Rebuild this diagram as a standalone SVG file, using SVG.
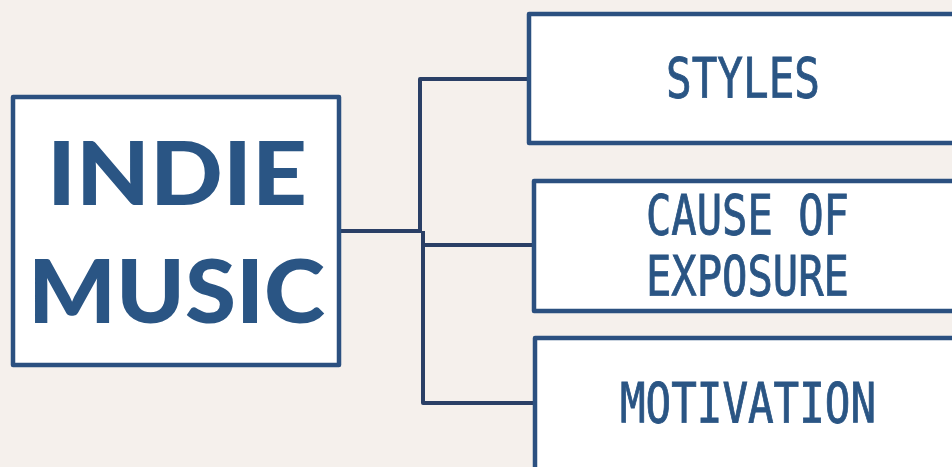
<svg xmlns="http://www.w3.org/2000/svg" width="952" height="467" viewBox="0 0 952 467">
<style>
.box{fill:#ffffff;stroke:#2b5080;stroke-width:4.5;stroke-linejoin:round}
.conn{fill:none;stroke:#2a3f66;stroke-width:4;stroke-linejoin:round}
.big{font-family:Lato,"DejaVu Sans",sans-serif;font-weight:900;font-size:88px;fill:#2a5584}
.lbl{font-family:"DejaVu Sans Mono","Liberation Mono",monospace;font-size:55px;fill:#2a5584;stroke:#2a5584;stroke-width:0.9}
</style>
<rect width="952" height="467" fill="#f5f0ec"/>
<g id="connectors">
<path class="conn" d="M340 231 H422"/>
<path class="conn" d="M529 79 H420 V231"/>
<path class="conn" d="M423 231 V403 H535"/>
<path class="conn" d="M423 245 H534"/>
</g>
<g id="indie-music">
<rect class="box" x="13" y="97" width="326" height="268"/>
<text class="big" x="47" y="205" textLength="260" lengthAdjust="spacingAndGlyphs">INDIE</text>
<text class="big" x="28" y="323" textLength="297" lengthAdjust="spacingAndGlyphs">MUSIC</text>
</g>
<g id="styles">
<rect class="box" x="529" y="14" width="440" height="129"/>
<text class="lbl" x="666" y="97" textLength="154" lengthAdjust="spacingAndGlyphs">STYLES</text>
</g>
<g id="cause">
<rect class="box" x="534" y="181" width="440" height="130"/>
<text class="lbl" x="646" y="234" textLength="203" lengthAdjust="spacingAndGlyphs">CAUSE OF</text>
<text class="lbl" x="646" y="295" textLength="203" lengthAdjust="spacingAndGlyphs">EXPOSURE</text>
</g>
<g id="motivation">
<rect class="box" x="535" y="338" width="440" height="140"/>
<text class="lbl" x="620" y="422" textLength="256" lengthAdjust="spacingAndGlyphs">MOTIVATION</text>
</g>
</svg>
